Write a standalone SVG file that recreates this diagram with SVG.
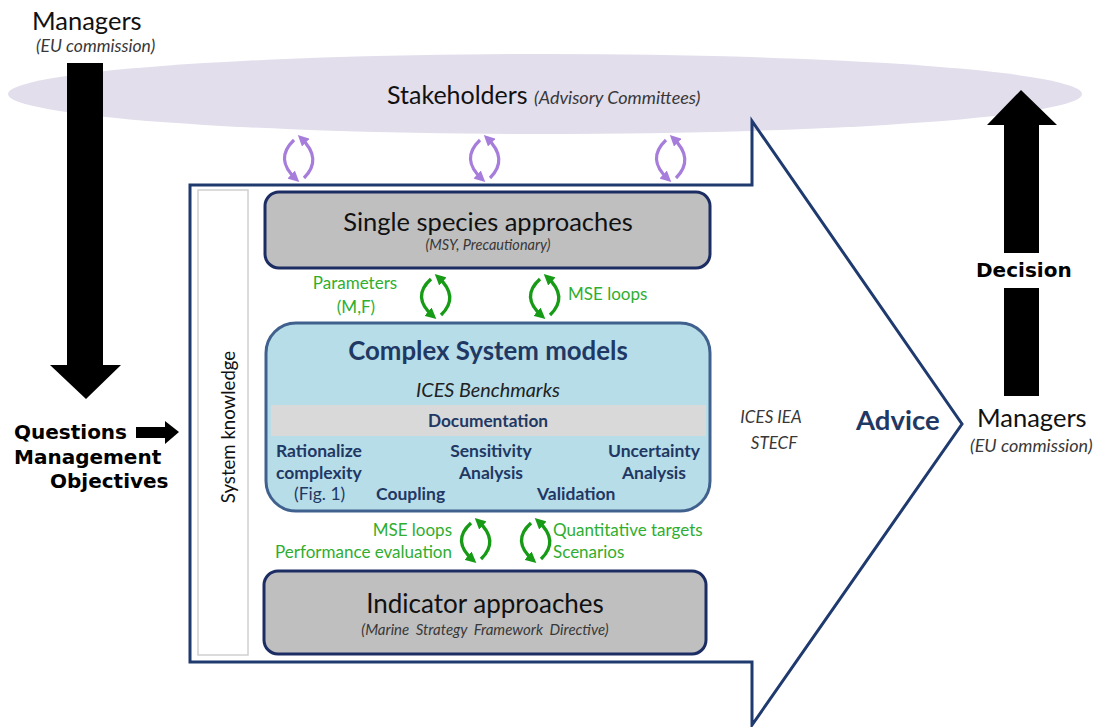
<svg xmlns="http://www.w3.org/2000/svg" width="1097" height="727" viewBox="0 0 1097 727">
<style>
.t{font-family:Lato,"Open Sans","Liberation Sans",sans-serif;fill:#111}
.it{font-style:italic;fill:#383838}
.nb{font-family:Lato,"Open Sans","Liberation Sans",sans-serif;font-weight:bold;fill:#1f3864}
.gr{font-family:Lato,"Open Sans","Liberation Sans",sans-serif;fill:#2fae2f;font-size:17px}
.bk{font-family:"DejaVu Sans",sans-serif;font-weight:bold;font-size:20px;fill:#000}
.box{fill:#bfbfbf;stroke:#1c2d63;stroke-width:3}
.pl{fill:none;stroke:#a77ddb;stroke-width:3.2}
.gl{fill:none;stroke:#179b17;stroke-width:3.4}
</style>
<defs>
<marker id="mp" viewBox="0 0 10 10" refX="6" refY="5" markerWidth="11" markerHeight="11" markerUnits="userSpaceOnUse" orient="auto"><path d="M0,0 L10,5 L0,10 z" fill="#a77ddb"/></marker>
<marker id="mg" viewBox="0 0 10 10" refX="6" refY="5" markerWidth="11" markerHeight="11" markerUnits="userSpaceOnUse" orient="auto"><path d="M0,0 L10,5 L0,10 z" fill="#179b17"/></marker>
<g id="ploop"><path class="pl" d="M-5,-19 Q-25,0 -3,20" marker-end="url(#mp)"/><path class="pl" d="M5,19 Q24,0 2,-21" marker-end="url(#mp)"/></g>
<g id="gloop"><path class="gl" d="M-5,-18 Q-25,0 -3,19" marker-end="url(#mg)"/><path class="gl" d="M5,18 Q24,0 2,-20" marker-end="url(#mg)"/></g>
</defs>
<rect width="1097" height="727" fill="#fff"/>

<g id="stakeholders">
<ellipse cx="545" cy="94" rx="537" ry="40" fill="#e2deec"/>
<text class="t" x="387" y="104" font-size="25">Stakeholders <tspan class="it" font-size="18">(Advisory Committees)</tspan></text>
</g>

<g id="advice-arrow">
<path d="M190,185 L752,185 L752,121 L962,424 L752,725 L752,662 L190,662 Z" fill="none" stroke="#1f3a6e" stroke-width="3"/>
<text class="nb" x="856" y="430" font-size="27.5">Advice</text>
<text class="t it" x="771" y="423" font-size="17" text-anchor="middle">ICES IEA</text>
<text class="t it" x="774" y="449" font-size="17" text-anchor="middle">STECF</text>
</g>

<g id="system-knowledge">
<rect x="198" y="190" width="50" height="465" fill="#fff" stroke="#d0d0d0" stroke-width="1.5"/>
<text class="t" transform="translate(235,427) rotate(-90)" font-size="18.6" text-anchor="middle">System knowledge</text>
</g>

<g id="single-species">
<rect class="box" x="265" y="192" width="445" height="76" rx="14"/>
<text class="t" x="488" y="231" font-size="25.5" text-anchor="middle">Single species approaches</text>
<text class="t it" x="488" y="250" font-size="14.5" text-anchor="middle">(MSY, Precautionary)</text>
</g>

<g id="complex-system">
<rect x="266" y="323" width="444" height="188" rx="30" fill="#b7dde8" stroke="#40608e" stroke-width="3"/>
<rect x="271" y="405" width="435" height="31" fill="#d9d9d9"/>
<text class="nb" x="488" y="360" font-size="25.8" text-anchor="middle">Complex System models</text>
<text class="t it" x="488" y="397" font-size="19.8" text-anchor="middle" style="fill:#222">ICES Benchmarks</text>
<text class="nb" x="488" y="427" font-size="17.3" text-anchor="middle">Documentation</text>
<text class="nb" x="276" y="457" font-size="17.5">Rationalize</text>
<text class="nb" x="276" y="479" font-size="17.5">complexity</text>
<text class="t" x="294" y="500" font-size="17.5" style="fill:#1f3864">(Fig. 1)</text>
<text class="nb" x="376" y="500" font-size="17.5">Coupling</text>
<text class="nb" x="491" y="457" font-size="17.5" text-anchor="middle">Sensitivity</text>
<text class="nb" x="491" y="479" font-size="17.5" text-anchor="middle">Analysis</text>
<text class="nb" x="700" y="457" font-size="17.5" text-anchor="end">Uncertainty</text>
<text class="nb" x="686" y="479" font-size="17.5" text-anchor="end">Analysis</text>
<text class="nb" x="537" y="500" font-size="17.5">Validation</text>
</g>

<g id="indicator">
<rect class="box" x="264" y="571" width="442" height="83" rx="14"/>
<text class="t" x="485" y="613" font-size="26" text-anchor="middle">Indicator approaches</text>
<text class="t it" x="485" y="635" font-size="15" text-anchor="middle" word-spacing="3">(Marine Strategy Framework Directive)</text>
</g>

<g id="managers-left">
<text class="t" x="32" y="30" font-size="25.5">Managers</text>
<text class="t it" x="36" y="52" font-size="17.5">(EU commission)</text>
</g>

<g id="managers-right">
<text class="t" x="977" y="427" font-size="25.5">Managers</text>
<text class="t it" x="970" y="452" font-size="18">(EU commission)</text>
</g>

<g id="questions">
<text class="bk" x="14" y="439">Questions</text>
<text class="bk" x="14" y="464" font-size="19.6">Management</text>
<text class="bk" x="50" y="488" font-size="21.5">Objectives</text>
</g>

<g id="connectors">
<path d="M67,63 H103 V365 H121 L86,399 L50,365 H67 Z" fill="#000"/>
<path d="M136,427 H165 V421 L179,432 L165,444 V438 H136 Z" fill="#000"/>
<path d="M1004,396 V288 H1039 V396 Z M1004,253 V125 H987 L1021,90 L1057,125 H1039 V253 Z" fill="#000"/>
<text class="bk" x="976" y="277" font-size="21">Decision</text>
<use href="#ploop" x="299" y="159"/>
<use href="#ploop" x="485" y="159"/>
<use href="#ploop" x="671" y="159"/>
<use href="#gloop" x="436" y="297"/>
<use href="#gloop" x="545" y="297"/>
<use href="#gloop" x="476" y="541"/>
<use href="#gloop" x="536" y="541"/>
<text class="gr" x="355" y="289" text-anchor="middle">Parameters</text>
<text class="gr" x="356" y="313" text-anchor="middle">(M,F)</text>
<text class="gr" x="568" y="300">MSE loops</text>
<text class="gr" x="452" y="536" text-anchor="end">MSE loops</text>
<text class="gr" x="452" y="558" text-anchor="end">Performance evaluation</text>
<text class="gr" x="553" y="536">Quantitative targets</text>
<text class="gr" x="553" y="558">Scenarios</text>
</g>
</svg>
